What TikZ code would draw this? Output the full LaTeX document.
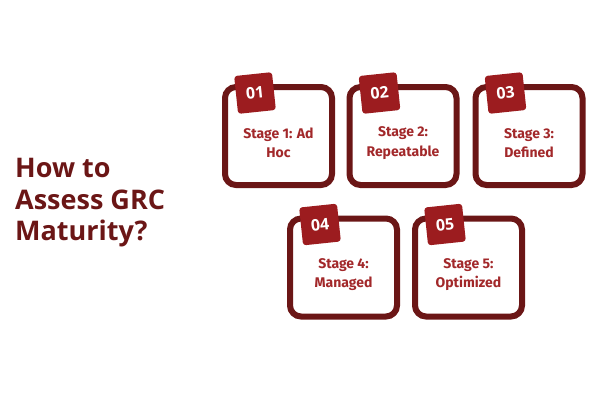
\documentclass[tikz,border=0pt]{standalone}
\usepackage{fontspec}
\setmainfont{Open Sans}
\newfontfamily\stagefont{Fira Sans}
\usetikzlibrary{calc}
\definecolor{maroon}{HTML}{6B1616}
\definecolor{tagred}{HTML}{9C1C1F}
\definecolor{stagered}{HTML}{A2282A}
\begin{document}
\begin{tikzpicture}[x=1pt,y=-1pt,
  card/.style={draw=maroon, line width=6pt, rounded corners=11pt, minimum width=107pt, minimum height=98pt, fill=white, inner sep=0pt},
  tag/.style={fill=tagred, rounded corners=3pt, minimum size=38pt, inner sep=0pt, text=white, font=\bfseries\fontsize{16}{16}\selectfont, rotate=6},
  stagetext/.style={text=stagered, align=center, font=\stagefont\bfseries\fontsize{14}{19.5}\selectfont},
  titletext/.style={text=maroon, anchor=base west, inner sep=0pt, font=\bfseries\fontsize{27}{31}\selectfont}]
\useasboundingbox (0,0) rectangle (600,400);
\node[card] (c1) at (278.5,136) {};
\node[card] (c2) at (403,136) {};
\node[card] (c3) at (529,136) {};
\node[card] (c4) at (343.5,267.5) {};
\node[card] (c5) at (468.5,267.5) {};
\foreach \i/\n in {1/01,2/02,3/03,4/04,5/05}{
  \node[tag] (t\i) at ($(c\i.north west)+(33,9)$) {\n};
}
\node[stagetext] (s1) at ($(c1.center)+(0,7)$) {Stage 1: Ad\\Hoc};
\node[stagetext] (s2) at ($(c2.center)+(0,7)$) {Stage 2:\\Repeatable};
\node[stagetext] (s3) at ($(c3.center)+(0,7)$) {Stage 3:\\Defined};
\node[stagetext] (s4) at ($(c4.center)+(0,7)$) {Stage 4:\\Managed};
\node[stagetext] (s5) at ($(c5.center)+(0,7)$) {Stage 5:\\Optimized};
\node[titletext] (h1) at (15,177) {How to};
\node[titletext] (h2) at (15,209) {Assess GRC};
\node[titletext] (h3) at (15,240) {Maturity?};
\end{tikzpicture}
\end{document}
